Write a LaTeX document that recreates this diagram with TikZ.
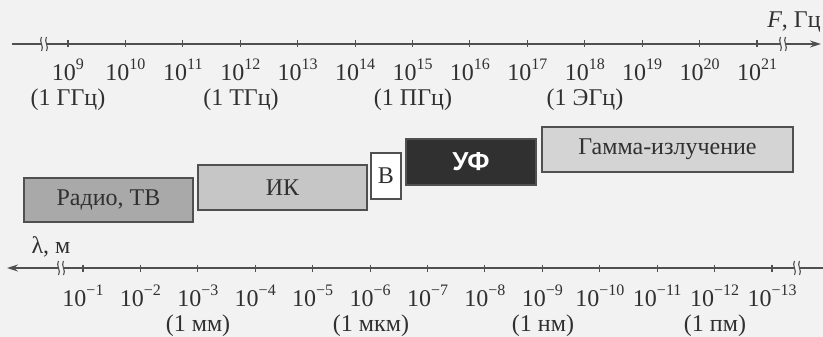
\documentclass[tikz,border=0pt]{standalone}
\usepackage{fontspec}
\setmainfont{Liberation Serif}
\newfontfamily\sansf{Liberation Sans}
\usetikzlibrary{arrows.meta}
\newcommand{\pw}[2]{#1\raisebox{0.45em}{\fontsize{16}{16}\selectfont #2}}
\definecolor{bgc}{HTML}{F2F2F2}
\definecolor{axc}{HTML}{505050}
\definecolor{radioc}{HTML}{A9A9A9}
\definecolor{ikc}{HTML}{C6C6C6}
\definecolor{gamc}{HTML}{D4D4D4}
\definecolor{uvc}{HTML}{303030}
\definecolor{txc}{HTML}{303030}
\begin{document}
\begin{tikzpicture}[x=1pt,y=-1pt,
  axis/.style={draw=axc,line width=1.4pt},
  tick/.style={draw=axc,line width=1.1pt},
  lab/.style={text=txc,font=\fontsize{24}{27}\selectfont,inner sep=0pt},
  band/.style={draw=axc,line width=1.3pt,inner sep=0pt,text=txc,font=\fontsize{24}{27}\selectfont},
  brk/.style={draw=axc,line width=1.1pt}
]
\fill[bgc] (0,0) rectangle (823,337);
\useasboundingbox (0,0) rectangle (823,337);

% top axis
\coordinate (ts) at (12,44);
\coordinate (te) at (821,44);
\draw[axis,-{Stealth[length=11pt,width=7pt]}] (ts) -- (te);
\foreach \bx in {44,783}{
  \fill[bgc] (\bx-2.5,38) rectangle (\bx+2.5,50);
  \draw[brk] (\bx-2.5,37) .. controls (\bx-5.5,41) and (\bx+0.5,47) .. (\bx-2.5,51);
  \draw[brk] (\bx+2.5,37) .. controls (\bx-0.5,41) and (\bx+5.5,47) .. (\bx+2.5,51);
}
\foreach \i in {9,...,21}{
  \pgfmathsetmacro\xx{68+(\i-9)*57.42}
  \draw[tick] (\xx,40.5) -- (\xx,47.5);
  \node[lab] (f\i) at (\xx,70) {\pw{10}{\i}};
}
\node[lab] (fg) at (68,100) {(1 ГГц)};
\node[lab] (ft) at (241,100) {(1 ТГц)};
\node[lab] (fp) at (413,100) {(1 ПГц)};
\node[lab] (fe) at (585,100) {(1 ЭГц)};
\node[lab] (fax) at (794,22) {\textit{F}, Гц};

% bands
\node[band,fill=radioc,minimum width=169pt,minimum height=44pt] (radio) at (108.5,200) {Радио, ТВ};
\node[band,fill=ikc,minimum width=169pt,minimum height=45pt] (ik) at (282.5,187.5) {ИК};
\node[band,fill=white,minimum width=30pt,minimum height=46pt] (vis) at (386,176) {В};
\node[band,fill=uvc,text=white,font=\sansf\bfseries\fontsize{26}{28}\selectfont,minimum width=130pt,minimum height=46pt] (uv) at (471,162) {УФ};
\node[band,fill=gamc,minimum width=251pt,minimum height=45pt] (gam) at (667.5,149.5) {Гамма-излучение};

% bottom axis
\coordinate (bs) at (7,268);
\coordinate (be) at (823,268);
\draw[axis,{Stealth[length=11pt,width=7pt]}-] (bs) -- (be);
\foreach \bx in {61,797}{
  \fill[bgc] (\bx-2.5,262) rectangle (\bx+2.5,274);
  \draw[brk] (\bx-2.5,261) .. controls (\bx-5.5,265) and (\bx+0.5,271) .. (\bx-2.5,275);
  \draw[brk] (\bx+2.5,261) .. controls (\bx-0.5,265) and (\bx+5.5,271) .. (\bx+2.5,275);
}
\foreach \i in {1,...,13}{
  \pgfmathsetmacro\xx{83+(\i-1)*57.42}
  \draw[tick] (\xx,264.5) -- (\xx,271.5);
  \node[lab] (w\i) at (\xx,296) {\pw{10}{−\i}};
}
\node[lab] (lax) at (51,247) {λ, м};
\node[lab] (wmm) at (198,326) {(1 мм)};
\node[lab] (wmk) at (371,326) {(1 мкм)};
\node[lab] (wnm) at (543,326) {(1 нм)};
\node[lab] (wpm) at (715,326) {(1 пм)};
\end{tikzpicture}
\end{document}
